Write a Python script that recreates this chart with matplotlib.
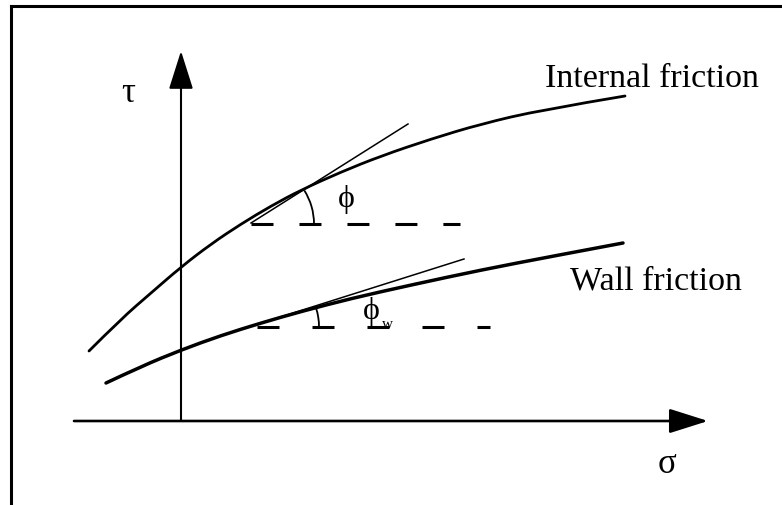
import matplotlib.pyplot as plt
import numpy as np
from matplotlib.patches import Arc, PathPatch
from matplotlib.path import Path

# shear stress vs normal stress, diagram units (origin at the axis crossing)
internal_sigma = [-92, -60, -30, 0, 30, 60, 90, 120, 160, 200, 250, 300, 360, 444]
internal_tau = [70, 102, 128, 154, 177, 197, 215, 231, 249, 265, 282, 297, 311, 325]

wall_sigma = [-75, -40, 0, 40, 80, 120, 170, 230, 300, 370, 442]
wall_tau = [38, 54.5, 71, 85.5, 98, 109.5, 122.5, 136, 151, 164.5, 178]

# tangent lines and the horizontal reference through their foot
phi_tangent_sigma = [70, 227]
phi_tangent_tau = [198, 297]
phi_ref_sigma = [70, 279]
phi_ref_tau = [197, 197]

phiw_tangent_sigma = [74, 283]
phiw_tangent_tau = [96, 162]
phiw_ref_sigma = [76, 309]
phiw_ref_tau = [94, 94]

serif = ["Liberation Serif", "DejaVu Serif"]


def smooth_curve(xs, ys, **kw):
    # quadratic spline: inner points act as control points, midpoints as anchors
    pts = np.column_stack([xs, ys]).astype(float)
    verts = [pts[0]]
    codes = [Path.MOVETO]
    for i in range(1, len(pts) - 1):
        end = pts[-1] if i == len(pts) - 2 else (pts[i] + pts[i + 1]) / 2
        verts += [pts[i], end]
        codes += [Path.CURVE3, Path.CURVE3]
    return PathPatch(Path(verts, codes), fill=False, capstyle="round", **kw)


fig = plt.figure(figsize=(7.82, 5.06), dpi=100)
ax = fig.add_axes([0, 0, 1, 1])
ax.set_xlim(-181, 601)
ax.set_ylim(-84, 422)
ax.axis("off")

# frame
ax.plot([-170, -170], [-90, 415], color="black", lw=2.2, solid_capstyle="projecting")
ax.plot([-170, 610], [415, 415], color="black", lw=2.2, solid_capstyle="projecting")

# axes with arrow heads
arrow = dict(arrowstyle="-|>,head_length=0.6,head_width=0.19", mutation_scale=40,
             color="black", lw=1.5, shrinkA=0, shrinkB=0)
ax.annotate("", xy=(0, 370), xytext=(0, 0), arrowprops=arrow)
arrow_h = dict(arrow, lw=1.9)
ax.annotate("", xy=(527, 0), xytext=(-107, 0), arrowprops=arrow_h)

# yield loci
ax.add_patch(smooth_curve(internal_sigma, internal_tau, color="black", lw=2.0))
ax.add_patch(smooth_curve(wall_sigma, wall_tau, color="black", lw=2.5))

# tangents
ax.plot(phi_tangent_sigma, phi_tangent_tau, color="black", lw=1.1)
ax.plot(phiw_tangent_sigma, phiw_tangent_tau, color="black", lw=1.1)

ax.plot(phi_ref_sigma, phi_ref_tau, color="black", lw=2.2, linestyle=(0, (7.2, 8.5)))
ax.plot(phiw_ref_sigma, phiw_ref_tau, color="black", lw=2.2, linestyle=(0, (7.2, 10.8)))

# angle arcs
phi_deg = np.degrees(np.arctan2(phi_tangent_tau[1] - phi_tangent_tau[0],
                                phi_tangent_sigma[1] - phi_tangent_sigma[0]))
phiw_deg = np.degrees(np.arctan2(phiw_tangent_tau[1] - phiw_tangent_tau[0],
                                 phiw_tangent_sigma[1] - phiw_tangent_sigma[0]))
ax.add_patch(Arc((phi_ref_sigma[0], phi_ref_tau[0]), 126, 126, theta1=0, theta2=phi_deg,
                 color="black", lw=1.3))
ax.add_patch(Arc((phiw_ref_sigma[0], phiw_ref_tau[0]), 124, 124, theta1=0, theta2=phiw_deg,
                 color="black", lw=1.3))

# labels
ax.text(364, 335, "Internal friction", family=serif, fontsize=24.5, ha="left", va="baseline")
ax.text(389, 132, "Wall friction", family=serif, fontsize=24.5, ha="left", va="baseline")
ax.text(-53, 329, "τ", family=serif, fontsize=25, ha="center", va="center")
ax.text(486, -43, "σ", family=serif, fontsize=25, ha="center", va="center")
ax.text(165, 222, "ϕ", family=serif, fontsize=23, ha="center", va="center")
ax.text(190, 111, "ϕ", family=serif, fontsize=23, ha="center", va="center")
ax.text(201, 98, "w", family=serif, fontsize=11, ha="left", va="center")

fig.savefig("out.png", dpi=100, facecolor="white")
